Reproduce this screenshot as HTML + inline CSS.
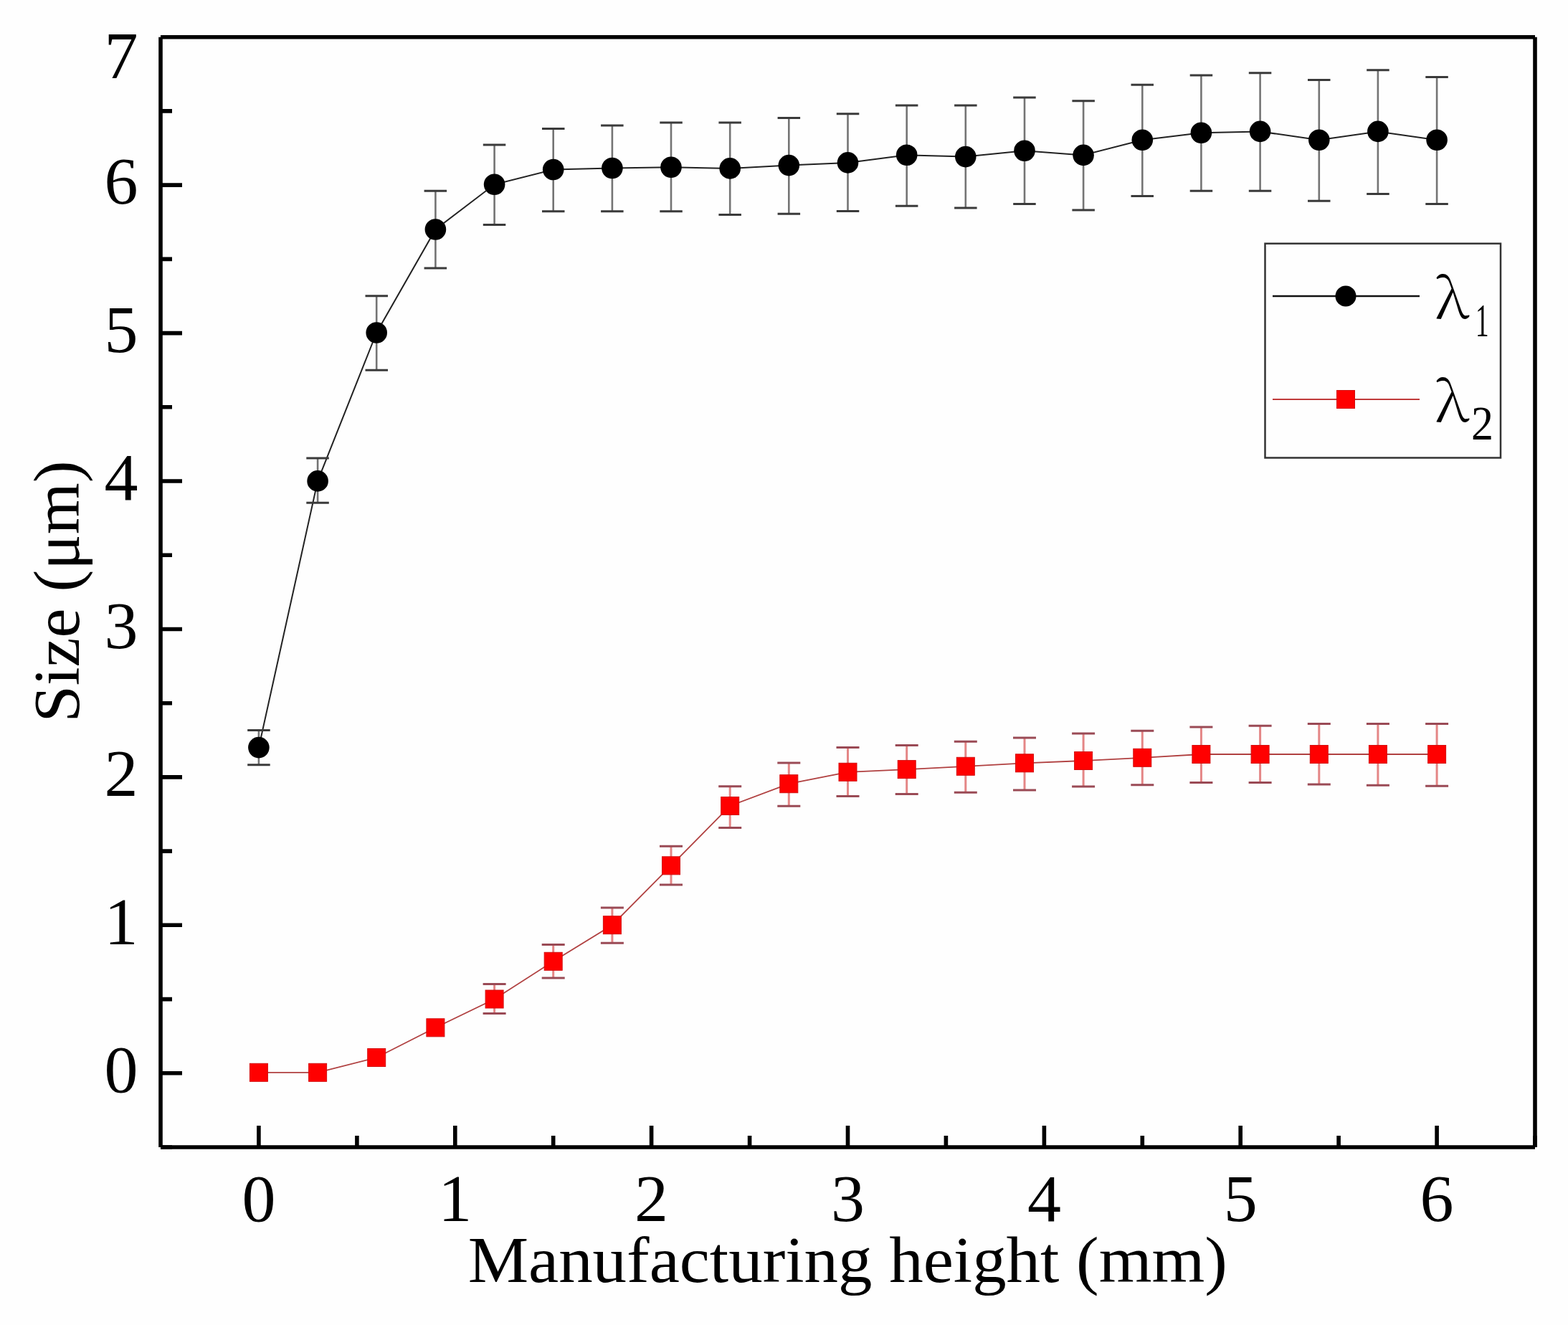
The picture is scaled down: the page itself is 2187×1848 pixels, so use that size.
<!DOCTYPE html>
<html><head><meta charset="utf-8"><title>Size vs manufacturing height</title>
<style>html,body{margin:0;padding:0;background:#fefefe;}body{width:2187px;height:1848px;overflow:hidden;}svg{display:block;}text{font-family:"Liberation Serif","Times New Roman",serif;fill:#000;}</style>
</head><body>
<svg width="2187" height="1848" viewBox="0 0 2187 1848">
<rect x="0" y="0" width="2187" height="1848" fill="#fefefe"/>
<polyline points="360.9,1042.6 443.1,670.9 525.2,464 607.4,320 689.6,257.3 771.7,236.5 853.9,234.5 936,233.3 1018.2,234.9 1100.3,230.6 1182.5,226.9 1264.7,216.3 1346.8,218.6 1429,210.3 1511.1,216.4 1593.3,195.2 1675.4,185.2 1757.6,183.4 1839.8,195.2 1921.9,183.4 2004.1,195.2" fill="none" stroke="#222" stroke-width="2"/>
<path d="M360.9 1018.4V1066.7M443.1 639.1V701.3M525.2 412.7V516.2M607.4 266.3V374M689.6 202V313.6M771.7 179.5V294.8M853.9 175.1V294.8M936 171.1V294.7M1018.2 171.1V299.6M1100.3 164.5V298.2M1182.5 158.8V294.4M1264.7 147V287.2M1346.8 147V290.1M1429 135.9V284.6M1511.1 140.7V293M1593.3 118.3V273.6M1675.4 104.9V266.2M1757.6 101.8V266.2M1839.8 111.4V280.2M1921.9 97.7V270.5M2004.1 107.4V284.5" stroke="#747474" stroke-width="2.6" fill="none"/>
<path d="M345.2 1018.4h31.5M345.2 1066.7h31.5M427.3 639.1h31.5M427.3 701.3h31.5M509.5 412.7h31.5M509.5 516.2h31.5M591.6 266.3h31.5M591.6 374h31.5M673.8 202h31.5M673.8 313.6h31.5M756 179.5h31.5M756 294.8h31.5M838.1 175.1h31.5M838.1 294.8h31.5M920.3 171.1h31.5M920.3 294.7h31.5M1002.4 171.1h31.5M1002.4 299.6h31.5M1084.6 164.5h31.5M1084.6 298.2h31.5M1166.8 158.8h31.5M1166.8 294.4h31.5M1248.9 147h31.5M1248.9 287.2h31.5M1331.1 147h31.5M1331.1 290.1h31.5M1413.2 135.9h31.5M1413.2 284.6h31.5M1495.4 140.7h31.5M1495.4 293h31.5M1577.5 118.3h31.5M1577.5 273.6h31.5M1659.7 104.9h31.5M1659.7 266.2h31.5M1741.8 101.8h31.5M1741.8 266.2h31.5M1824 111.4h31.5M1824 280.2h31.5M1906.2 97.7h31.5M1906.2 270.5h31.5M1988.3 107.4h31.5M1988.3 284.5h31.5" stroke="#3a3a3a" stroke-width="3" fill="none"/>
<circle cx="360.9" cy="1042.6" r="14.8" fill="#000"/>
<circle cx="443.1" cy="670.9" r="14.8" fill="#000"/>
<circle cx="525.2" cy="464" r="14.8" fill="#000"/>
<circle cx="607.4" cy="320" r="14.8" fill="#000"/>
<circle cx="689.6" cy="257.3" r="14.8" fill="#000"/>
<circle cx="771.7" cy="236.5" r="14.8" fill="#000"/>
<circle cx="853.9" cy="234.5" r="14.8" fill="#000"/>
<circle cx="936" cy="233.3" r="14.8" fill="#000"/>
<circle cx="1018.2" cy="234.9" r="14.8" fill="#000"/>
<circle cx="1100.3" cy="230.6" r="14.8" fill="#000"/>
<circle cx="1182.5" cy="226.9" r="14.8" fill="#000"/>
<circle cx="1264.7" cy="216.3" r="14.8" fill="#000"/>
<circle cx="1346.8" cy="218.6" r="14.8" fill="#000"/>
<circle cx="1429" cy="210.3" r="14.8" fill="#000"/>
<circle cx="1511.1" cy="216.4" r="14.8" fill="#000"/>
<circle cx="1593.3" cy="195.2" r="14.8" fill="#000"/>
<circle cx="1675.4" cy="185.2" r="14.8" fill="#000"/>
<circle cx="1757.6" cy="183.4" r="14.8" fill="#000"/>
<circle cx="1839.8" cy="195.2" r="14.8" fill="#000"/>
<circle cx="1921.9" cy="183.4" r="14.8" fill="#000"/>
<circle cx="2004.1" cy="195.2" r="14.8" fill="#000"/>
<polyline points="360.9,1495.8 443.1,1495.8 525.2,1475 607.4,1433.3 689.6,1393.5 771.7,1340.8 853.9,1290.2 936,1207.3 1018.2,1124 1100.3,1093.2 1182.5,1076.8 1264.7,1073.1 1346.8,1068.8 1429,1064.3 1511.1,1061 1593.3,1056.8 1675.4,1052 1757.6,1052 1839.8,1052 1921.9,1052 2004.1,1052" fill="none" stroke="#b04040" stroke-width="1.8"/>
<path d="M689.6 1372.4V1413.4M771.7 1317.5V1363.9M853.9 1266V1315.2M936 1180.3V1234M1018.2 1096.7V1154.4M1100.3 1063.9V1124.3M1182.5 1042.4V1110.5M1264.7 1039.5V1107.6M1346.8 1034.3V1105.3M1429 1028.9V1102M1511.1 1023.1V1096.9M1593.3 1019.3V1094.7M1675.4 1014.1V1091.5M1757.6 1012.2V1091.5M1839.8 1009.6V1094M1921.9 1009.6V1095.3M2004.1 1009.6V1096.3" stroke="#e48686" stroke-width="3" fill="none"/>
<path d="M673.6 1372.4h32M673.6 1413.4h32M755.7 1317.5h32M755.7 1363.9h32M837.9 1266h32M837.9 1315.2h32M920 1180.3h32M920 1234h32M1002.2 1096.7h32M1002.2 1154.4h32M1084.3 1063.9h32M1084.3 1124.3h32M1166.5 1042.4h32M1166.5 1110.5h32M1248.7 1039.5h32M1248.7 1107.6h32M1330.8 1034.3h32M1330.8 1105.3h32M1413 1028.9h32M1413 1102h32M1495.1 1023.1h32M1495.1 1096.9h32M1577.3 1019.3h32M1577.3 1094.7h32M1659.4 1014.1h32M1659.4 1091.5h32M1741.6 1012.2h32M1741.6 1091.5h32M1823.8 1009.6h32M1823.8 1094h32M1905.9 1009.6h32M1905.9 1095.3h32M1988.1 1009.6h32M1988.1 1096.3h32" stroke="#9a4a55" stroke-width="3" fill="none"/>
<rect x="348.4" y="1483.3" width="25" height="25" fill="#ff0000" stroke="#d40c0c" stroke-width="1"/>
<rect x="430.6" y="1483.3" width="25" height="25" fill="#ff0000" stroke="#d40c0c" stroke-width="1"/>
<rect x="512.7" y="1462.5" width="25" height="25" fill="#ff0000" stroke="#d40c0c" stroke-width="1"/>
<rect x="594.9" y="1420.8" width="25" height="25" fill="#ff0000" stroke="#d40c0c" stroke-width="1"/>
<rect x="677.1" y="1381" width="25" height="25" fill="#ff0000" stroke="#d40c0c" stroke-width="1"/>
<rect x="759.2" y="1328.3" width="25" height="25" fill="#ff0000" stroke="#d40c0c" stroke-width="1"/>
<rect x="841.4" y="1277.7" width="25" height="25" fill="#ff0000" stroke="#d40c0c" stroke-width="1"/>
<rect x="923.5" y="1194.8" width="25" height="25" fill="#ff0000" stroke="#d40c0c" stroke-width="1"/>
<rect x="1005.7" y="1111.5" width="25" height="25" fill="#ff0000" stroke="#d40c0c" stroke-width="1"/>
<rect x="1087.8" y="1080.7" width="25" height="25" fill="#ff0000" stroke="#d40c0c" stroke-width="1"/>
<rect x="1170" y="1064.3" width="25" height="25" fill="#ff0000" stroke="#d40c0c" stroke-width="1"/>
<rect x="1252.2" y="1060.6" width="25" height="25" fill="#ff0000" stroke="#d40c0c" stroke-width="1"/>
<rect x="1334.3" y="1056.3" width="25" height="25" fill="#ff0000" stroke="#d40c0c" stroke-width="1"/>
<rect x="1416.5" y="1051.8" width="25" height="25" fill="#ff0000" stroke="#d40c0c" stroke-width="1"/>
<rect x="1498.6" y="1048.5" width="25" height="25" fill="#ff0000" stroke="#d40c0c" stroke-width="1"/>
<rect x="1580.8" y="1044.3" width="25" height="25" fill="#ff0000" stroke="#d40c0c" stroke-width="1"/>
<rect x="1662.9" y="1039.5" width="25" height="25" fill="#ff0000" stroke="#d40c0c" stroke-width="1"/>
<rect x="1745.1" y="1039.5" width="25" height="25" fill="#ff0000" stroke="#d40c0c" stroke-width="1"/>
<rect x="1827.3" y="1039.5" width="25" height="25" fill="#ff0000" stroke="#d40c0c" stroke-width="1"/>
<rect x="1909.4" y="1039.5" width="25" height="25" fill="#ff0000" stroke="#d40c0c" stroke-width="1"/>
<rect x="1991.6" y="1039.5" width="25" height="25" fill="#ff0000" stroke="#d40c0c" stroke-width="1"/>
<path d="M224 51.7H2141M2141 51.7V1600M224 1600H2141M224 51.7V1600" fill="none" stroke="#000" stroke-width="5.6"/>
<path d="M360.9 1600V1570M634.8 1600V1570M908.6 1600V1570M1182.5 1600V1570M1456.4 1600V1570M1730.2 1600V1570M2004.1 1600V1570M497.9 1600V1584M771.7 1600V1584M1045.6 1600V1584M1319.4 1600V1584M1593.3 1600V1584M1867.1 1600V1584M2141 1600V1584M224 1496.8H254M224 1290.3H254M224 1083.9H254M224 877.5H254M224 671H254M224 464.6H254M224 258.1H254M224 1600H240M224 1393.6H240M224 1187.1H240M224 980.7H240M224 774.2H240M224 567.8H240M224 361.4H240M224 154.9H240" stroke="#000" stroke-width="5.6" fill="none"/>
<text x="360.9" y="1702.5" font-size="94" text-anchor="middle">0</text>
<text x="634.8" y="1702.5" font-size="94" text-anchor="middle">1</text>
<text x="908.6" y="1702.5" font-size="94" text-anchor="middle">2</text>
<text x="1182.5" y="1702.5" font-size="94" text-anchor="middle">3</text>
<text x="1456.4" y="1702.5" font-size="94" text-anchor="middle">4</text>
<text x="1730.2" y="1702.5" font-size="94" text-anchor="middle">5</text>
<text x="2004.1" y="1702.5" font-size="94" text-anchor="middle">6</text>
<text x="192.5" y="1523.1" font-size="94" text-anchor="end">0</text>
<text x="192.5" y="1316.6" font-size="94" text-anchor="end">1</text>
<text x="192.5" y="1110.2" font-size="94" text-anchor="end">2</text>
<text x="192.5" y="903.8" font-size="94" text-anchor="end">3</text>
<text x="192.5" y="697.3" font-size="94" text-anchor="end">4</text>
<text x="192.5" y="490.9" font-size="94" text-anchor="end">5</text>
<text x="192.5" y="284.4" font-size="94" text-anchor="end">6</text>
<text x="192.5" y="108.5" font-size="94" text-anchor="end">7</text>
<text x="652.7" y="1788" font-size="91" textLength="1059.2" lengthAdjust="spacingAndGlyphs">Manufacturing height (mm)</text>
<text transform="translate(110,1007.6) rotate(-90)" font-size="91" textLength="365.1" lengthAdjust="spacingAndGlyphs">Size (μm)</text>
<rect x="1764.5" y="339.7" width="328.5" height="298.8" fill="none" stroke="#333" stroke-width="2.5"/>
<line x1="1775" y1="413" x2="1980" y2="413" stroke="#111" stroke-width="2.5"/>
<circle cx="1877" cy="413" r="14.5" fill="#000"/>
<line x1="1775" y1="557" x2="1980" y2="557" stroke="#c03a3a" stroke-width="2"/>
<rect x="1864.5" y="544.5" width="25" height="25" fill="#ff0000" stroke="#d40c0c" stroke-width="1"/>
<text transform="translate(2004,443.5) scale(1.085,1)" x="-2.3" y="0" font-size="77" style="font-family:'Noto Serif CJK SC','Liberation Serif',serif;font-weight:300">λ</text>
<text transform="translate(2067.3,468.5) scale(0.6,1.07)" x="0" y="0" font-size="62" text-anchor="middle">1</text>
<text transform="translate(2004,587.5) scale(1.085,1)" x="-2.3" y="0" font-size="77" style="font-family:'Noto Serif CJK SC','Liberation Serif',serif;font-weight:300">λ</text>
<text transform="translate(2053.5,612.8) scale(1,1.08)" x="-1.5" y="0" font-size="62">2</text>
</svg>
</body></html>
